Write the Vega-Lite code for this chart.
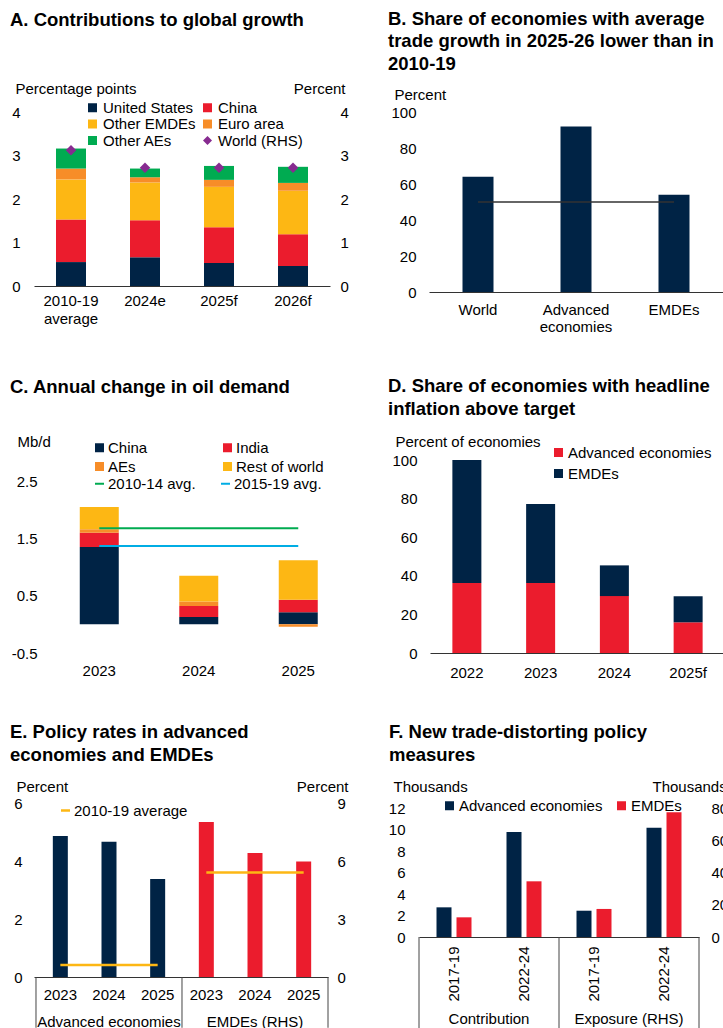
{
  "$schema": "https://vega.github.io/schema/vega-lite/v6.json",
  "padding": {"left": 10, "top": 9, "right": 0, "bottom": 0},
  "background": "white",
  "columns": 2,
  "align": "none",
  "spacing": {"row": 43, "column": 39},
  "resolve": {"scale": {"color": "independent", "stroke": "independent", "shape": "independent"}, "legend": {"color": "independent", "stroke": "independent", "shape": "independent"}},
  "config": {
    "font": "Liberation Sans",
    "view": {"stroke": null},
    "axis": {"labelFont": "Liberation Sans", "labelFontSize": 15, "labelColor": "#000", "titleFont": "Liberation Sans", "titleFontSize": 15, "titleFontWeight": "normal", "titleColor": "#000", "grid": false, "ticks": false, "tickSize": 0, "domain": false, "labelPadding": 8, "labelOverlap": false},
    "legend": {"labelFont": "Liberation Sans", "labelFontSize": 15, "labelColor": "#000", "orient": "none", "padding": 0, "symbolStrokeWidth": 0, "rowPadding": 2, "labelOffset": 3},
    "title": {"font": "Liberation Sans", "fontSize": 18.5, "fontWeight": "bold", "color": "#000", "anchor": "start", "frame": "group", "lineHeight": 22.5}
  },
  "concat": [
    {
      "width": 296, "height": 174,
      "title": {"text": "A. Contributions to global growth", "dx": -24, "offset": 52},
      "layer": [
        {
          "data": {"values": [
            {"period": "2010-19 average", "series": "United States", "value": 0.55},
            {"period": "2010-19 average", "series": "China", "value": 0.98},
            {"period": "2010-19 average", "series": "Other EMDEs", "value": 0.92},
            {"period": "2010-19 average", "series": "Euro area", "value": 0.25},
            {"period": "2010-19 average", "series": "Other AEs", "value": 0.46},
            {"period": "2024e", "series": "United States", "value": 0.66},
            {"period": "2024e", "series": "China", "value": 0.85},
            {"period": "2024e", "series": "Other EMDEs", "value": 0.87},
            {"period": "2024e", "series": "Euro area", "value": 0.12},
            {"period": "2024e", "series": "Other AEs", "value": 0.2},
            {"period": "2025f", "series": "United States", "value": 0.53},
            {"period": "2025f", "series": "China", "value": 0.82},
            {"period": "2025f", "series": "Other EMDEs", "value": 0.93},
            {"period": "2025f", "series": "Euro area", "value": 0.16},
            {"period": "2025f", "series": "Other AEs", "value": 0.32},
            {"period": "2026f", "series": "United States", "value": 0.46},
            {"period": "2026f", "series": "China", "value": 0.73},
            {"period": "2026f", "series": "Other EMDEs", "value": 1.0},
            {"period": "2026f", "series": "Euro area", "value": 0.18},
            {"period": "2026f", "series": "Other AEs", "value": 0.37}
          ]},
          "transform": [{"calculate": "indexof(['United States', 'China', 'Other EMDEs', 'Euro area', 'Other AEs'], datum.series)", "as": "stackOrder"}],
          "mark": {"type": "bar", "size": 30},
          "encoding": {
            "x": {"field": "period", "type": "nominal", "title": null, "scale": {"domain": ["2010-19 average", "2024e", "2025f", "2026f"], "paddingInner": 0, "paddingOuter": 0}, "axis": {"domain": true, "domainColor": "#333", "labelAngle": 0, "labelPadding": 7, "labelLineHeight": 18, "labelExpr": "datum.label == '2010-19 average' ? ['2010-19', 'average'] : datum.label"}},
            "y": {"field": "value", "type": "quantitative", "stack": "zero", "scale": {"domain": [0, 4], "nice": false}, "axis": {"values": [0, 1, 2, 3, 4], "labelOverlap": false, "title": "Percentage points", "titleAngle": 0, "titleAlign": "left", "titleBaseline": "alphabetic", "titleX": -19, "titleY": -19, "labelPadding": 14}},
            "order": {"field": "stackOrder", "type": "quantitative", "sort": "ascending"},
            "color": {"field": "series", "type": "nominal", "scale": {"domain": ["United States", "Other EMDEs", "Other AEs", "China", "Euro area", "World (RHS)"], "range": ["#002345", "#FDB714", "#00AB51", "#EB1C2D", "#F78D28", "#872B90"]}, "legend": {"title": null, "columns": 2, "columnPadding": 4, "legendX": 51, "legendY": -12, "symbolSize": 81, "rowPadding": 0.5}}
          }
        },
        {
          "data": {"values": [
            {"period": "2010-19 average", "series": "World (RHS)", "value": 3.12},
            {"period": "2024e", "series": "World (RHS)", "value": 2.72},
            {"period": "2025f", "series": "World (RHS)", "value": 2.72},
            {"period": "2026f", "series": "World (RHS)", "value": 2.72}
          ]},
          "mark": {"type": "point", "filled": true, "size": 110, "opacity": 1},
          "encoding": {
            "x": {"field": "period", "type": "nominal"},
            "y": {"field": "value", "type": "quantitative", "scale": {"domain": [0, 4], "nice": false}, "axis": {"orient": "right", "values": [0, 1, 2, 3, 4], "labelOverlap": false, "title": "Percent", "titleAngle": 0, "titleAlign": "right", "titleBaseline": "alphabetic", "titleX": 15, "titleY": -19, "labelPadding": 10}},
            "color": {"field": "series", "type": "nominal", "scale": {"domain": ["United States", "Other EMDEs", "Other AEs", "China", "Euro area", "World (RHS)"], "range": ["#002345", "#FDB714", "#00AB51", "#EB1C2D", "#F78D28", "#872B90"]}, "legend": {"title": null, "columns": 2, "columnPadding": 4, "legendX": 51, "legendY": -12, "symbolSize": 81, "rowPadding": 0.5}},
            "shape": {"field": "series", "type": "nominal", "scale": {"domain": ["United States", "Other EMDEs", "Other AEs", "China", "Euro area", "World (RHS)"], "range": ["square", "square", "square", "square", "square", "diamond"]}, "legend": {"title": null, "columns": 2, "columnPadding": 4, "legendX": 51, "legendY": -12, "symbolSize": 81, "rowPadding": 0.5}}
          }
        }
      ],
      "resolve": {"scale": {"y": "independent"}}
    },
    {
      "width": 294, "height": 180,
      "title": {"text": ["B. Share of economies with average", "trade growth in 2025-26 lower than in", "2010-19"], "dx": -41, "offset": 14},
      "layer": [
        {
          "data": {"values": [
            {"group": "World", "share": 64},
            {"group": "Advanced economies", "share": 92},
            {"group": "EMDEs", "share": 54}
          ]},
          "mark": {"type": "bar", "size": 31, "color": "#002345"},
          "encoding": {
            "x": {"field": "group", "type": "nominal", "title": null, "scale": {"domain": ["World", "Advanced economies", "EMDEs"], "paddingInner": 0, "paddingOuter": 0}, "axis": {"domain": true, "domainColor": "#333", "labelAngle": 0, "labelPadding": 10, "labelLineHeight": 17, "labelExpr": "datum.label == 'Advanced economies' ? ['Advanced', 'economies'] : datum.label"}},
            "y": {"field": "share", "type": "quantitative", "scale": {"domain": [0, 100], "nice": false}, "axis": {"values": [0, 20, 40, 60, 80, 100], "labelOverlap": false, "title": "Percent", "titleAngle": 0, "titleAlign": "left", "titleBaseline": "alphabetic", "titleX": -35, "titleY": -13, "labelPadding": 13}}
          }
        },
        {
          "data": {"values": [
            {"group": "World", "avg": 50},
            {"group": "EMDEs", "avg": 50}
          ]},
          "mark": {"type": "line", "color": "#333", "strokeWidth": 1.3},
          "encoding": {
            "x": {"field": "group", "type": "nominal"},
            "y": {"field": "avg", "type": "quantitative", "axis": {"values": [0, 20, 40, 60, 80, 100], "labelOverlap": false, "title": "Percent", "titleAngle": 0, "titleAlign": "left", "titleBaseline": "alphabetic", "titleX": -35, "titleY": -13, "labelPadding": 13}}
          }
        }
      ]
    },
    {
      "width": 314, "height": 193,
      "title": {"text": "C. Annual change in oil demand", "dx": -24, "offset": 38},
      "layer": [
        {
          "data": {"values": [
            {"year": "2023", "series": "China", "value": 1.35},
            {"year": "2023", "series": "India", "value": 0.25},
            {"year": "2023", "series": "AEs", "value": 0.06},
            {"year": "2023", "series": "Rest of world", "value": 0.39},
            {"year": "2024", "series": "China", "value": 0.13},
            {"year": "2024", "series": "India", "value": 0.19},
            {"year": "2024", "series": "AEs", "value": 0.08},
            {"year": "2024", "series": "Rest of world", "value": 0.45},
            {"year": "2025", "series": "China", "value": 0.21},
            {"year": "2025", "series": "India", "value": 0.22},
            {"year": "2025", "series": "AEs", "value": -0.04},
            {"year": "2025", "series": "Rest of world", "value": 0.69}
          ]},
          "transform": [{"calculate": "indexof(['China', 'India', 'AEs', 'Rest of world'], datum.series)", "as": "stackOrder"}],
          "mark": {"type": "bar", "size": 39},
          "encoding": {
            "x": {"field": "year", "type": "nominal", "title": null, "scale": {"domain": ["2023", "2024", "2025"], "paddingInner": 0, "paddingOuter": 0.078, "align": 1}, "axis": {"labelAngle": 0, "labelPadding": 10}},
            "y": {"field": "value", "type": "quantitative", "stack": "zero", "scale": {"domain": [-0.5, 2.87], "nice": false}, "axis": {"values": [-0.5, 0.5, 1.5, 2.5], "labelOverlap": false, "labelExpr": "datum.value < 0 ? '-' + format(-datum.value, '.1f') : format(datum.value, '.1f')", "title": "Mb/d", "titleAngle": 0, "titleAlign": "left", "titleBaseline": "alphabetic", "titleX": -17, "titleY": -14, "labelPadding": -3}},
            "order": {"field": "stackOrder", "type": "quantitative", "sort": "ascending"},
            "color": {"field": "series", "type": "nominal", "scale": {"domain": ["China", "AEs", "India", "Rest of world"], "range": ["#002345", "#F78D28", "#EB1C2D", "#FDB714"]}, "legend": {"title": null, "columns": 2, "columnPadding": 72, "legendX": 58, "legendY": -20, "symbolType": "square", "symbolSize": 81, "rowPadding": 3, "labelOffset": 1}}
          }
        },
        {
          "data": {"values": [
            {"year": "2023", "avg": 1.68, "s": "2010-14 avg."},
            {"year": "2025", "avg": 1.68, "s": "2010-14 avg."},
            {"year": "2023", "avg": 1.37, "s": "2015-19 avg."},
            {"year": "2025", "avg": 1.37, "s": "2015-19 avg."}
          ]},
          "mark": {"type": "line", "strokeWidth": 2},
          "encoding": {
            "x": {"field": "year", "type": "nominal"},
            "y": {"field": "avg", "type": "quantitative"},
            "stroke": {"field": "s", "type": "nominal", "scale": {"domain": ["2010-14 avg.", "2015-19 avg."], "range": ["#00AB51", "#00ADE4"]}, "legend": {"title": null, "columns": 2, "columnPadding": 21, "legendX": 58, "legendY": 16, "symbolType": "stroke", "symbolSize": 81, "symbolStrokeWidth": 2, "rowPadding": 3, "labelOffset": 1}}
          }
        },
        {
          "mark": {"type": "rule", "color": "#333", "strokeWidth": 1},
          "encoding": {"y": {"datum": 0, "type": "quantitative"}}
        }
      ]
    },
    {
      "width": 295, "height": 193,
      "title": {"text": ["D. Share of economies with headline", "inflation above target"], "dx": -42, "offset": 16},
      "data": {"values": [
        {"year": "2022", "group": "Advanced economies", "share": 36.3},
        {"year": "2022", "group": "EMDEs", "share": 63.7},
        {"year": "2023", "group": "Advanced economies", "share": 36.3},
        {"year": "2023", "group": "EMDEs", "share": 40.9},
        {"year": "2024", "group": "Advanced economies", "share": 29.5},
        {"year": "2024", "group": "EMDEs", "share": 15.9},
        {"year": "2025f", "group": "Advanced economies", "share": 15.9},
        {"year": "2025f", "group": "EMDEs", "share": 13.5}
      ]},
      "mark": {"type": "bar", "size": 29},
      "encoding": {
        "x": {"field": "year", "type": "nominal", "title": null, "scale": {"paddingInner": 0, "paddingOuter": 0}, "axis": {"domain": true, "domainColor": "#333", "labelAngle": 0, "labelPadding": 12}},
        "y": {"field": "share", "type": "quantitative", "stack": "zero", "scale": {"domain": [0, 100], "nice": false}, "axis": {"values": [0, 20, 40, 60, 80, 100], "labelOverlap": false, "title": "Percent of economies", "titleAngle": 0, "titleAlign": "left", "titleBaseline": "alphabetic", "titleX": -35, "titleY": -14, "labelPadding": 13}},
        "order": {"field": "group", "type": "nominal", "sort": "ascending"},
        "color": {"field": "group", "type": "nominal", "scale": {"domain": ["Advanced economies", "EMDEs"], "range": ["#EB1C2D", "#002345"]}, "legend": {"title": null, "legendX": 121, "legendY": -15, "symbolType": "square", "symbolSize": 81, "rowPadding": 5, "labelOffset": 2}}
      }
    },
    {
      "width": 294, "height": 174,
      "title": {"text": ["E. Policy rates in advanced", "economies and EMDEs"], "dx": -24, "offset": 15},
      "layer": [
        {
          "layer": [
            {
              "data": {"values": [
                {"key": "A2023", "rate": 4.86},
                {"key": "A2024", "rate": 4.66},
                {"key": "A2025", "rate": 3.38}
              ]},
              "mark": {"type": "bar", "size": 15, "color": "#002345"},
              "encoding": {
                "x": {"field": "key", "type": "nominal", "title": null, "scale": {"domain": ["A2023", "A2024", "A2025", "E2023", "E2024", "E2025"], "paddingInner": 0, "paddingOuter": 0.0205, "align": 1}, "axis": {"domain": true, "domainColor": "#333", "labelAngle": 0, "labelPadding": 10, "labelExpr": "substring(datum.label, 1)"}},
                "y": {"field": "rate", "type": "quantitative", "scale": {"domain": [0, 6], "nice": false}, "axis": {"values": [0, 2, 4, 6], "labelOverlap": false, "title": "Percent", "titleAngle": 0, "titleAlign": "left", "titleBaseline": "alphabetic", "titleX": -18, "titleY": -12, "labelPadding": 12}}
              }
            },
            {
              "data": {"values": [
                {"key": "A2023", "avg": 0.41, "s": "2010-19 average"},
                {"key": "A2025", "avg": 0.41, "s": "2010-19 average"}
              ]},
              "mark": {"type": "line", "strokeWidth": 2.5},
              "encoding": {
                "x": {"field": "key", "type": "nominal"},
                "y": {"field": "avg", "type": "quantitative"},
                "stroke": {"field": "s", "type": "nominal", "scale": {"domain": ["2010-19 average"], "range": ["#FDB714"]}, "legend": {"title": null, "legendX": 24, "legendY": 0, "symbolType": "stroke", "symbolSize": 81, "symbolStrokeWidth": 2.5, "labelOffset": 1}}
              }
            },
            {
              "data": {"values": [{"key": "A2023"}, {"key": "E2023"}]},
              "mark": {"type": "rule", "color": "#444", "strokeWidth": 1},
              "encoding": {
                "x": {"field": "key", "type": "nominal", "bandPosition": 0},
                "y": {"datum": 0, "type": "quantitative"},
                "y2": {"datum": -1.75}
              }
            },
            {
              "data": {"values": [{"key": "E2025"}]},
              "mark": {"type": "rule", "color": "#444", "strokeWidth": 1},
              "encoding": {
                "x": {"field": "key", "type": "nominal", "bandPosition": 1},
                "y": {"datum": 0, "type": "quantitative"},
                "y2": {"datum": -1.75}
              }
            },
            {
              "data": {"values": [
                {"key": "A2024", "label": "Advanced economies"},
                {"key": "E2024", "label": "EMDEs (RHS)"}
              ]},
              "mark": {"type": "text", "fontSize": 15, "baseline": "middle", "color": "#000"},
              "encoding": {
                "x": {"field": "key", "type": "nominal"},
                "y": {"datum": -1.55, "type": "quantitative"},
                "text": {"field": "label"}
              }
            }
          ]
        },
        {
          "layer": [
            {
              "data": {"values": [
                {"key": "E2023", "rate": 8.02},
                {"key": "E2024", "rate": 6.41},
                {"key": "E2025", "rate": 5.98}
              ]},
              "mark": {"type": "bar", "size": 15, "color": "#EB1C2D"},
              "encoding": {
                "x": {"field": "key", "type": "nominal"},
                "y": {"field": "rate", "type": "quantitative", "scale": {"domain": [0, 9], "nice": false}, "axis": {"orient": "right", "values": [0, 3, 6, 9], "labelOverlap": false, "title": "Percent", "titleAngle": 0, "titleAlign": "right", "titleBaseline": "alphabetic", "titleX": 20, "titleY": -12, "labelPadding": 9}}
              }
            },
            {
              "data": {"values": [
                {"key": "E2023", "avg": 5.41, "s": "2010-19 average"},
                {"key": "E2025", "avg": 5.41, "s": "2010-19 average"}
              ]},
              "mark": {"type": "line", "strokeWidth": 2.5},
              "encoding": {
                "x": {"field": "key", "type": "nominal"},
                "y": {"field": "avg", "type": "quantitative"},
                "stroke": {"field": "s", "type": "nominal"}
              }
            }
          ]
        }
      ],
      "resolve": {"scale": {"y": "independent"}}
    },
    {
      "width": 280, "height": 129,
      "title": {"text": ["F. New trade-distorting policy", "measures"], "dx": -30, "offset": 15},
      "layer": [
        {
          "layer": [
            {
              "data": {"values": [
                {"key": "C 2017-19", "series": "Advanced economies", "v": 2.76},
                {"key": "C 2017-19", "series": "EMDEs", "v": 1.83},
                {"key": "C 2022-24", "series": "Advanced economies", "v": 9.77},
                {"key": "C 2022-24", "series": "EMDEs", "v": 5.18}
              ]},
              "mark": {"type": "bar"},
              "encoding": {
                "x": {"field": "key", "type": "nominal", "title": null, "scale": {"domain": ["C 2017-19", "C 2022-24", "E 2017-19", "E 2022-24"], "paddingInner": 0, "paddingOuter": 0}, "axis": {"domain": true, "domainColor": "#333", "labelAngle": -90, "labelPadding": 9, "labelExpr": "substring(datum.label, 2)"}},
                "xOffset": {"field": "series", "type": "nominal", "scale": {"domain": ["Advanced economies", "EMDEs"], "paddingInner": 0.25, "paddingOuter": 0.875}},
                "y": {"field": "v", "type": "quantitative", "scale": {"domain": [0, 12], "nice": false}, "axis": {"values": [0, 2, 4, 6, 8, 10, 12], "labelOverlap": false, "title": "Thousands", "titleAngle": 0, "titleAlign": "left", "titleBaseline": "alphabetic", "titleX": -26, "titleY": -17, "labelPadding": 14}},
                "color": {"field": "series", "type": "nominal", "scale": {"domain": ["Advanced economies", "EMDEs"], "range": ["#002345", "#EB1C2D"]}, "legend": {"title": null, "direction": "horizontal", "legendX": 23, "legendY": -10, "symbolType": "square", "symbolSize": 81, "columnPadding": 11, "labelOffset": 2}}
              }
            },
            {
              "data": {"values": [{"key": "C 2017-19"}, {"key": "E 2017-19"}]},
              "mark": {"type": "rule", "color": "#444", "strokeWidth": 1},
              "encoding": {
                "x": {"field": "key", "type": "nominal", "bandPosition": 0},
                "y": {"datum": 0, "type": "quantitative", "axis": {"values": [0, 2, 4, 6, 8, 10, 12], "labelOverlap": false, "title": "Thousands", "titleAngle": 0, "titleAlign": "left", "titleBaseline": "alphabetic", "titleX": -26, "titleY": -17, "labelPadding": 14}},
                "y2": {"datum": -8.5}
              }
            },
            {
              "data": {"values": [{"key": "E 2022-24"}]},
              "mark": {"type": "rule", "color": "#444", "strokeWidth": 1},
              "encoding": {
                "x": {"field": "key", "type": "nominal", "bandPosition": 1},
                "y": {"datum": 0, "type": "quantitative", "axis": {"values": [0, 2, 4, 6, 8, 10, 12], "labelOverlap": false, "title": "Thousands", "titleAngle": 0, "titleAlign": "left", "titleBaseline": "alphabetic", "titleX": -26, "titleY": -17, "labelPadding": 14}},
                "y2": {"datum": -8.5}
              }
            },
            {
              "data": {"values": [
                {"key": "C 2022-24", "label": "Contribution"},
                {"key": "E 2022-24", "label": "Exposure (RHS)"}
              ]},
              "mark": {"type": "text", "fontSize": 15, "baseline": "middle", "color": "#000"},
              "encoding": {
                "x": {"field": "key", "type": "nominal", "bandPosition": 0},
                "y": {"datum": -7.63, "type": "quantitative", "axis": {"values": [0, 2, 4, 6, 8, 10, 12], "labelOverlap": false, "title": "Thousands", "titleAngle": 0, "titleAlign": "left", "titleBaseline": "alphabetic", "titleX": -26, "titleY": -17, "labelPadding": 14}},
                "text": {"field": "label"}
              }
            }
          ]
        },
        {
          "data": {"values": [
            {"key": "E 2017-19", "series": "Advanced economies", "v": 16.3},
            {"key": "E 2017-19", "series": "EMDEs", "v": 17.4},
            {"key": "E 2022-24", "series": "Advanced economies", "v": 67.8},
            {"key": "E 2022-24", "series": "EMDEs", "v": 77.3}
          ]},
          "mark": {"type": "bar"},
          "encoding": {
            "x": {"field": "key", "type": "nominal"},
            "xOffset": {"field": "series", "type": "nominal"},
            "y": {"field": "v", "type": "quantitative", "scale": {"domain": [0, 80], "nice": false}, "axis": {"orient": "right", "values": [0, 20, 40, 60, 80], "labelOverlap": false, "title": "Thousands", "titleAngle": 0, "titleAlign": "left", "titleBaseline": "alphabetic", "titleX": -47, "titleY": -17, "labelPadding": 12}},
            "color": {"field": "series", "type": "nominal"}
          }
        }
      ],
      "resolve": {"scale": {"y": "independent"}}
    }
  ]
}
